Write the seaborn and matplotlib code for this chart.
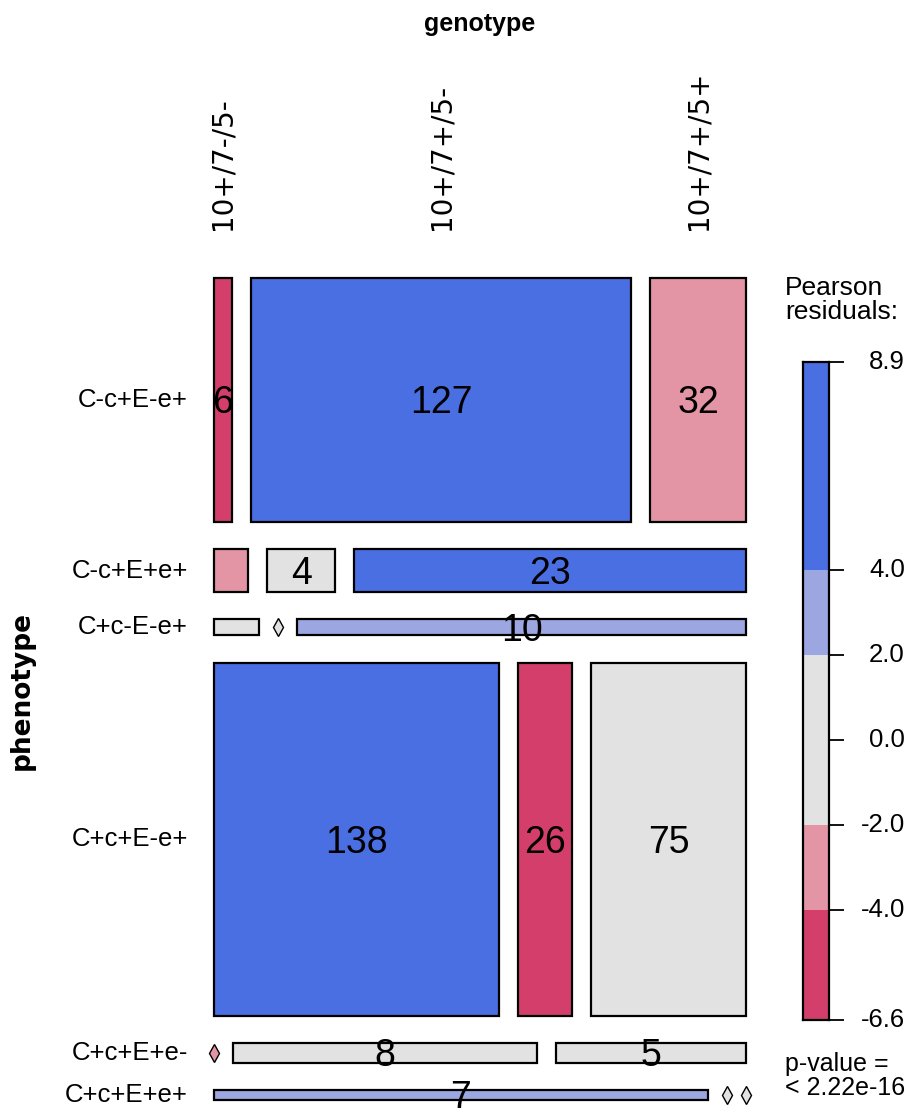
import numpy as np
import matplotlib
matplotlib.use("Agg")
import matplotlib.pyplot as plt
from matplotlib.transforms import blended_transform_factory
import seaborn as sns

# data: counts per phenotype (rows) for each genotype (columns)
phenotype = ["C-c+E-e+", "C-c+E+e+", "C+c-E-e+", "C+c+E-e+", "C+c+E+e-", "C+c+E+e+"]
genotype = ["10+/7-/5-", "10+/7+/5-", "10+/7+/5+"]
n_g1 = [6, 2, 1, 138, 0, 7]
n_g2 = [127, 4, 0, 26, 8, 0]
n_g3 = [32, 23, 10, 75, 5, 0]

cut_points = [-4, -2, 2, 4]
shade_colors = ["#D33F6A", "#E495A5", "#E2E2E2", "#9CA6E0", "#4A6FE3"]
p_text = "p-value =\n< 2.22e-16"

sns.set_style("white")
plt.rcParams["font.family"] = ["Liberation Sans Narrow", "Liberation Sans", "DejaVu Sans"]
plt.rcParams["text.color"] = "black"

table = np.array([n_g1, n_g2, n_g3]).T
N = table.sum()
row_tot = table.sum(axis=1)
col_tot = table.sum(axis=0)
expected = np.outer(row_tot, col_tot) / N
resid = (table - expected) / np.sqrt(expected)
shade_idx = np.digitize(resid, cut_points)

W, H = 909, 1119
fig = plt.figure(figsize=(W / 100, H / 100), dpi=100)
ax = fig.add_axes([214 / W, 1 - 1100 / H, 532 / W, 822 / H])
ax.set_xlim(0, 1)
ax.set_ylim(1, 0)
ax.axis("off")

gx, gy = 0.036, 0.033
nr, nc = table.shape
heights = row_tot / N * (1 - gy * (nr - 1))
tops = np.concatenate([[0], np.cumsum(heights)[:-1]]) + gy * np.arange(nr)

for i in range(nr):
    widths = table[i] / row_tot[i] * (1 - gx * (nc - 1))
    lefts = np.concatenate([[0], np.cumsum(widths)[:-1]]) + gx * np.arange(nc)
    yc = tops[i] + heights[i] / 2
    for j in range(nc):
        col = shade_colors[shade_idx[i, j]]
        if table[i, j] == 0:
            ax.plot(lefts[j], yc, marker="d", ms=9, mfc=col, mec="black",
                    mew=1.0, clip_on=False)
            continue
        ax.barh(yc, widths[j], left=lefts[j], height=heights[i], color=col,
                edgecolor="black", linewidth=1.6, clip_on=False)
        if table[i, j] > 2:
            ax.text(lefts[j] + widths[j] / 2, yc + 0.004, str(table[i, j]), fontsize=27,
                    ha="center", va="center", clip_on=False)
        if i == 0:
            ax.text(lefts[j] + widths[j] / 2, -0.058, genotype[j], rotation=90,
                    ha="center", va="bottom", fontsize=20, family="DejaVu Sans")
    ax.text(-0.049, yc, phenotype[i], ha="right", va="center", fontsize=18.5)

fig.text(480 / W, 1 - 24 / H, "genotype", fontsize=18, fontweight="bold",
         ha="center", va="center")
fig.text(22 / W, 1 - 690 / H, "phenotype", fontsize=19, fontweight="bold",
         rotation=90, ha="center", va="center", family="DejaVu Sans")

# legend for the residual shading
lo, hi = np.round(resid.min(), 1), np.round(resid.max(), 1)
bounds = [lo] + cut_points + [hi]
cax = fig.add_axes([803 / W, 1 - 1020 / H, 26 / W, 658 / H])
cax.set_xlim(0, 1)
cax.set_ylim(lo, hi)
for k in range(len(shade_colors)):
    cax.bar(0.5, bounds[k + 1] - bounds[k], bottom=bounds[k], width=1,
            color=shade_colors[k], linewidth=0)
for s in cax.spines.values():
    s.set_visible(True)
    s.set_color("black")
    s.set_linewidth(1.6)
cax.set_xticks([])
cax.yaxis.tick_right()
cax.set_yticks(bounds[:1] + cut_points[:2] + [0] + cut_points[2:] + bounds[-1:])
cax.set_yticklabels([])
cax.tick_params(axis="y", length=11, width=1.3, color="black", right=True, left=False)
tr = blended_transform_factory(fig.transFigure, cax.transData)
for v in cax.get_yticks():
    fig.text(905 / W, v, f"{v:.1f}", transform=tr, ha="right", va="center",
             fontsize=18.5)

fig.text(785 / W, 1 - 300 / H, "Pearson\nresiduals:", ha="left", va="center",
         fontsize=19, linespacing=1.05)
fig.text(785 / W, 1 - 1076 / H, p_text, ha="left", va="center",
         fontsize=18, linespacing=1.05)

fig.savefig("out.png", dpi=100)
